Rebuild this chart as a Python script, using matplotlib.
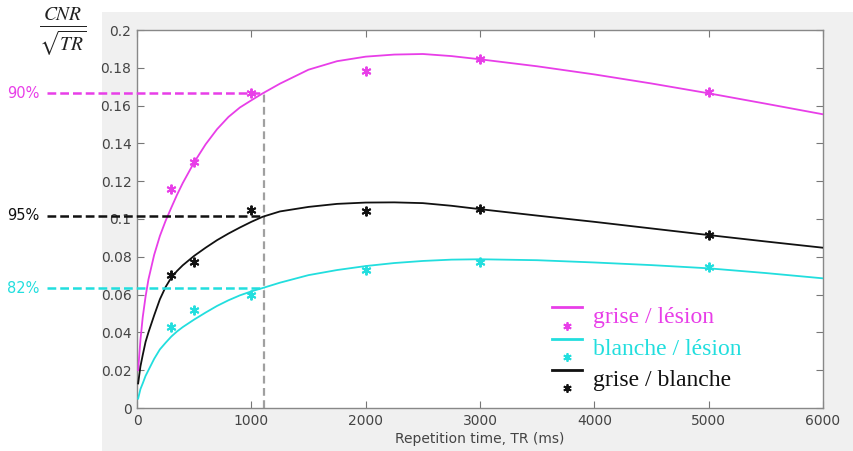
import matplotlib
matplotlib.use("Agg")
import matplotlib.pyplot as plt
from matplotlib.lines import Line2D
from matplotlib.legend_handler import HandlerBase
from matplotlib.patches import Rectangle

# ---- data -------------------------------------------------------------
tr_meas = [300, 500, 1000, 2000, 3000, 5000]
gm_les_meas = [0.1159, 0.1303, 0.1668, 0.1785, 0.1845, 0.1674]
wm_les_meas = [0.0430, 0.0519, 0.0598, 0.0730, 0.0774, 0.0744]
gm_wm_meas = [0.0704, 0.0774, 0.1048, 0.1042, 0.1053, 0.0915]

tr_fit = [10, 30, 50, 75, 100, 150, 200, 250, 300, 350, 400, 500, 600, 700,
          800, 900, 1000, 1100, 1250, 1500, 1750, 2000, 2250, 2500, 2750,
          3000, 3500, 4000, 4500, 5000, 5500, 6000]
gm_les_fit = [0.020, 0.036, 0.048, 0.059, 0.068, 0.081, 0.091, 0.099, 0.106,
              0.1128, 0.119, 0.130, 0.1395, 0.1475, 0.1540, 0.1590, 0.1628,
              0.1665, 0.1716, 0.1790, 0.1835, 0.1859, 0.1870, 0.1873, 0.1862,
              0.1845, 0.1808, 0.1765, 0.1717, 0.1665, 0.1610, 0.1554]
wm_les_fit = [0.005, 0.010, 0.013, 0.017, 0.020, 0.026, 0.031, 0.0345, 0.0378,
              0.0405, 0.0428, 0.0468, 0.0505, 0.0540, 0.0570, 0.0596, 0.0617,
              0.0635, 0.0663, 0.0703, 0.0730, 0.0751, 0.0767, 0.0778, 0.0785,
              0.0787, 0.0782, 0.0770, 0.0756, 0.0739, 0.0714, 0.0686]
gm_wm_fit = [0.013, 0.022, 0.028, 0.035, 0.040, 0.049, 0.0575, 0.0640,
             0.0690, 0.0725, 0.0755, 0.0805, 0.0848, 0.0888, 0.0923, 0.0955,
             0.0985, 0.1012, 0.1040, 0.1064, 0.1080, 0.1087, 0.1088, 0.1084,
             0.1070, 0.1052, 0.1018, 0.0985, 0.0950, 0.0915, 0.0881, 0.0848]

tr_opt = 1110
pct_labels = ["90%", "95%", "82%"]
pct_levels = [0.1665, 0.1016, 0.0633]

series_names = ["grise / lésion", "blanche / lésion", "grise / blanche"]

x_ticks = [0, 1000, 2000, 3000, 4000, 5000, 6000]
y_ticks = [0, 0.02, 0.04, 0.06, 0.08, 0.1, 0.12, 0.14, 0.16, 0.18, 0.2]
y_ticklabels = ["0", "0.02", "0.04", "0.06", "0.08", "0.1", "0.12",
                "0.14", "0.16", "0.18", "0.2"]

# ---- style ------------------------------------------------------------
MAG = "#e83ee8"
CYA = "#22dede"
BLK = "#111111"
colors = [MAG, CYA, BLK]
ASTER = (6, 2, 0)

W, H = 854, 451
fig = plt.figure(figsize=(W / 100, H / 100), dpi=100)
fig.patch.set_facecolor("white")

# light grey panel behind the axes
panel = Rectangle((102 / W, 0), 1 - 102 / W, 1 - 12 / H,
                  transform=fig.transFigure, facecolor="#f0f0f0",
                  edgecolor="none", zorder=-10)
fig.patches.append(panel)

ax = fig.add_axes([137 / W, 1 - 408 / H, (823 - 137) / W, (408 - 30) / H])
ax.set_facecolor("white")
ax.set_zorder(1)

fits = [gm_les_fit, wm_les_fit, gm_wm_fit]
meas = [gm_les_meas, wm_les_meas, gm_wm_meas]
lines, marks = [], []
for fit, mv, c in zip(fits, meas, colors):
    l, = ax.plot(tr_fit, fit, color=c, lw=1.3, zorder=3,
                 solid_joinstyle="round")
    m, = ax.plot(tr_meas, mv, linestyle="none", marker=ASTER, ms=7,
                 mew=1.4, color=c, zorder=4)
    lines.append(l)
    marks.append(m)

# vertical marker at the chosen TR
ax.plot([tr_opt, tr_opt], [0, pct_levels[0]], color="#a0a0a0", lw=1.6,
        dashes=(3.5, 2), zorder=2)

# horizontal percentage guides running out past the y axis
x_left = -790
for lab, lev, c in zip(pct_labels, pct_levels, [MAG, BLK, CYA]):
    ax.plot([x_left, tr_opt], [lev, lev], color=c, lw=1.8, dashes=(3.5, 1.6),
            clip_on=False, zorder=5)
    ax.text(x_left - 60, lev, lab, color=c, fontsize=10.5, ha="right",
            va="center", clip_on=False)

ax.set_xlim(0, 6000)
ax.set_ylim(0, 0.2)
ax.set_xticks(x_ticks)
ax.set_xticklabels([str(t) for t in x_ticks])
ax.set_yticks(y_ticks)
ax.set_yticklabels(y_ticklabels)
ax.tick_params(direction="in", length=5, width=0.8, color="#777777",
               labelcolor="#444444", labelsize=10, top=True, right=True,
               pad=4)
for s in ax.spines.values():
    s.set_color("#888888")
    s.set_linewidth(1.0)
ax.set_xlabel("Repetition time, TR (ms)", fontsize=10, color="#444444",
              labelpad=3)

# y quantity label
fig.text(63 / W, 1 - 32 / H, r"$\frac{CNR}{\sqrt{TR}}$", fontsize=20,
         ha="center", va="center", color="#222222",
         math_fontfamily="stix")


class LineOverMarker(HandlerBase):
    def create_artists(self, legend, orig_handle, xdescent, ydescent,
                       width, height, fontsize, trans):
        ln, mk = orig_handle
        y_line = height * 0.95 - ydescent
        y_mark = -height * 0.15 - ydescent
        a = Line2D([-xdescent, -xdescent + width], [y_line, y_line],
                   color=ln.get_color(), lw=2.0, transform=trans)
        b = Line2D([-xdescent + width / 2], [y_mark], marker=ASTER,
                   ms=6, mew=1.3, color=mk.get_color(), linestyle="none",
                   transform=trans)
        return [a, b]


leg = ax.legend(handles=list(zip(lines, marks)), labels=series_names,
                handler_map={tuple: LineOverMarker()},
                loc="lower left", bbox_to_anchor=(0.605, 0.045),
                frameon=False, handlelength=1.25, handletextpad=0.5,
                labelspacing=0.42, borderpad=0, borderaxespad=0,
                prop={"family": "Liberation Serif", "size": 17})
for t, c in zip(leg.get_texts(), colors):
    t.set_color(c)

fig.savefig("out.png", dpi=100)
